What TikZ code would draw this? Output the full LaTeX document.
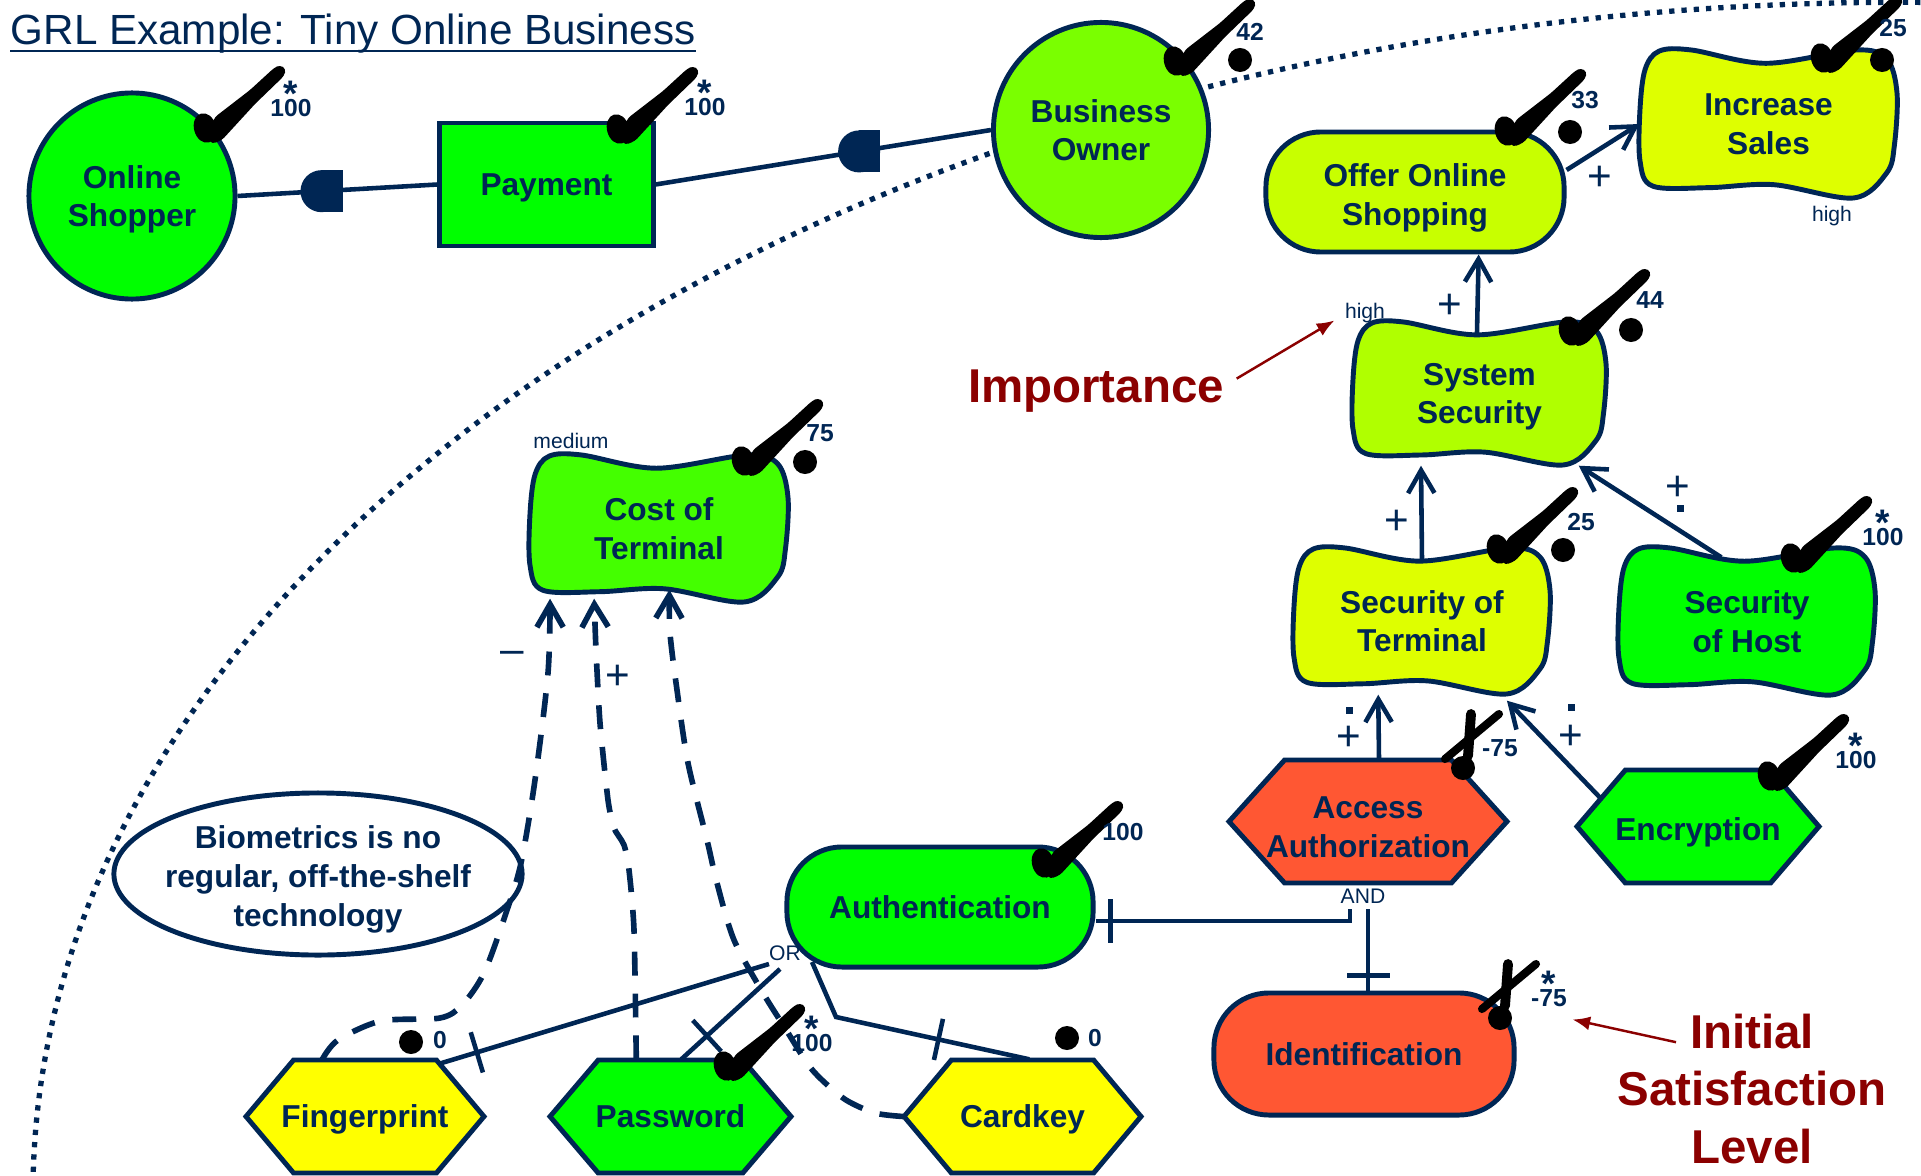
\documentclass[tikz,border=0pt]{standalone}
\usepackage{fontspec}
\setmainfont{Liberation Sans}
\usetikzlibrary{arrows.meta,calc}
\definecolor{navy}{RGB}{0,38,84}
\definecolor{darkred}{RGB}{139,0,0}
\definecolor{cfull}{RGB}{0,255,0}
\definecolor{cbo}{RGB}{122,255,0}
\definecolor{coos}{RGB}{200,255,0}
\definecolor{cis}{RGB}{222,255,0}
\definecolor{css}{RGB}{176,255,0}
\definecolor{ccot}{RGB}{68,255,0}
\definecolor{csot}{RGB}{222,255,0}
\definecolor{cred}{RGB}{255,87,51}
\definecolor{cyel}{RGB}{255,255,0}

\newcommand{\grlsoft}[7]{%
  \filldraw[elemline, fill=#6] plot[smooth cycle, tension=0.55] coordinates {
   ({#2+0.075*(#4-#2)},{#3+0.007*(#5-#3)})
   ({#2+0.2*(#4-#2)},{#3})
   ({#2+0.49*(#4-#2)},{#3+0.09*(#5-#3)})
   ({#2+0.84*(#4-#2)},{#3})
   ({#2+0.96*(#4-#2)},{#3+0.06*(#5-#3)})
   ({#4},{#3+0.29*(#5-#3)})
   ({#2+0.99*(#4-#2)},{#3+0.64*(#5-#3)})
   ({#2+0.96*(#4-#2)},{#3+0.83*(#5-#3)})
   ({#2+0.83*(#4-#2)},{#5})
   ({#2+0.52*(#4-#2)},{#3+0.91*(#5-#3)})
   ({#2+0.27*(#4-#2)},{#3+0.93*(#5-#3)})
   ({#2+0.05*(#4-#2)},{#3+0.92*(#5-#3)})
   ({#2},{#3+0.75*(#5-#3)})
   ({#2},{#3+0.4*(#5-#3)})
   ({#2+0.02*(#4-#2)},{#3+0.13*(#5-#3)})
  };
  \node[elemtext, minimum width={(#4-#2)*0.01cm}, minimum height={(#5-#3)*0.01cm}] (#1) at ({(#2+#4)/2},{(#3+#5)/2}) {#7};
}
\newcommand{\grltask}[8][]{%
  \filldraw[elemline, fill=#7] ({#3},{(#4+#6)/2}) -- ({#3+0.2*(#5-#3)},{#4}) -- ({#5-0.2*(#5-#3)},{#4}) -- ({#5},{(#4+#6)/2}) -- ({#5-0.2*(#5-#3)},{#6}) -- ({#3+0.2*(#5-#3)},{#6}) -- cycle;
  \node[elemtext, minimum width={(#5-#3)*0.01cm}, minimum height={(#6-#4)*0.01cm}, #1] (#2) at ({(#3+#5)/2},{(#4+#6)/2}) {#8};
}
\newcommand{\grlcheck}[2]{%
  \begin{scope}[shift={(#1,#2)}]
    \fill[black, rotate around={15:(-5,-14)}] (-5,-14) ellipse [x radius=0.11cm, y radius=0.15cm];
    \fill[black, rounded corners=1pt] (5,-25) -- (40,-52) -- (64,-74) -- (70,-77) -- (76,-73) -- (74,-66) -- (45,-38) -- (12,-2) -- (2,2) -- (-4,-6) -- cycle;
  \end{scope}
}
\newcommand{\grlcross}[2]{%
  \begin{scope}[shift={(#1,#2)}]
    \draw[black, line width=2.8pt, line cap=round] (5,-12) -- (8,-54);
    \draw[black, line width=2.3pt, line cap=round] (-18,-9) -- (36,-54);
  \end{scope}
}

\begin{document}
\begin{tikzpicture}[x=0.01cm, y=-0.01cm,
  elemline/.style={draw=navy, line width=1.4pt},
  elemtext/.style={font=\fontsize{9}{11}\selectfont\bfseries, text=navy, align=center, inner sep=0pt, text depth=0pt},
  actor/.style={circle, elemline, elemtext},
  goal/.style={rectangle, rounded corners=0.55cm, elemline, elemtext},
  res/.style={rectangle, elemline, elemtext},
  link/.style={draw=navy, line width=1.3pt},
  contrib/.style={link, -{Straight Barb[length=6.5pt,width=7.5pt]}},
  dcontrib/.style={contrib, line width=1.6pt, dash pattern=on 6.8pt off 5.1pt},
  boundary/.style={draw=navy, line width=1.5pt, dash pattern=on 1.5pt off 2pt},
  tickmark/.style={draw=navy, line width=1.3pt, minimum width=0pt, minimum height=0.42cm, inner sep=0pt, sloped, rectangle},
  num/.style={font=\fontsize{7}{8}\selectfont\bfseries, text=navy, inner sep=0pt},
  numstar/.style={num, align=center, text depth=0pt},
  smalllbl/.style={font=\fontsize{6}{7}\selectfont, text=navy, inner sep=0pt},
  signlbl/.style={font=\fontsize{12}{12}\selectfont, text=navy, inner sep=0pt},
  calltext/.style={font=\fontsize{13.5}{16.4}\selectfont\bfseries, text=darkred, align=center, inner sep=0pt},
  callarrow/.style={draw=darkred, line width=0.7pt, -{Latex[length=5pt,width=4pt]}}
]
\newcommand{\stv}[1]{{\fontsize{10.5}{10}\selectfont *}\\[-5.1pt]#1}
\useasboundingbox (0,0) rectangle (1921,1176);
\fill[white] (0,0) rectangle (1921,1176);
\begin{scope}
  \clip (0,0) rectangle (1921,1176);
  \draw[boundary] (1900,1195) ellipse [x radius=18.66cm, y radius=11.92cm];
\end{scope}

% title
\node[font=\fontsize{12}{14}\selectfont, text=navy, inner sep=0pt, anchor=base west] (title) at (10,45) {GRL Example: Tiny Online Business};
\draw[navy, line width=0.8pt] ($(title.base west)+(0,6)$) -- ($(title.base east)+(0,6)$);

% actors and resource
\node[actor, fill=cfull, minimum size=2.06cm] (os) at (132,196) {Online\\Shopper};
\node[res, fill=cfull, minimum width=2.13cm, minimum height=1.23cm] (pay) at (546.5,184.5) {Payment};
\node[actor, fill=cbo, minimum size=2.15cm] (bo) at (1101,130) {Business\\Owner};

% goals
\node[goal, fill=coos, minimum width=2.98cm, minimum height=1.2cm, text height=19pt] (oos) at (1415,192) {Offer Online\\Shopping};
\node[goal, fill=cfull, minimum width=3.06cm, minimum height=1.2cm] (auth) at (940,907) {Authentication};
\node[goal, fill=cred, minimum width=3.0cm, minimum height=1.22cm] (ident) at (1364,1054) {Identification};

% softgoals
\grlsoft{is}{1640}{50}{1897}{198}{cis}{Increase\\Sales}
\grlsoft{ss}{1353}{322}{1606}{465}{css}{System\\Security}
\grlsoft{cot}{530}{455}{788}{602}{ccot}{Cost of\\Terminal}
\grlsoft{sot}{1294}{548}{1550}{694}{csot}{Security of\\Terminal}
\grlsoft{soh}{1619}{548}{1875}{695}{cfull}{Security\\of Host}

% tasks
\grltask[text height=20.4pt]{aa}{1229}{760}{1507}{883}{cred}{Access\\Authorization}
\grltask[text height=8pt]{enc}{1577}{770}{1819}{883}{cfull}{Encryption}
\grltask{fp}{246}{1060}{484}{1173}{cyel}{Fingerprint}
\grltask{pw}{550}{1060}{791}{1173}{cfull}{Password}
\grltask{ck}{904}{1060}{1141}{1173}{cyel}{Cardkey}

% belief
\filldraw[elemline, fill=white] (318,874) ellipse [x radius=2.04cm, y radius=0.81cm];
\node[elemtext] (bio) at (318,876) {Biometrics is no\\regular, off-the-shelf\\technology};

% dependencies
\draw[link] (os.east) -- coordinate[pos=0.42] (d1) (pay.west);
\draw[link] (pay.east) -- coordinate[pos=0.607] (d2) (bo.west);
\fill[navy] (d1) circle[radius=0.21cm];
\fill[navy] ($(d1)+(0,-21)$) rectangle ($(d1)+(21,21)$);
\fill[navy] (d2) circle[radius=0.21cm];
\fill[navy] ($(d2)+(0,-21)$) rectangle ($(d2)+(21,21)$);

% contributions
\draw[contrib] ($(oos.east)+(0,-22)$) -- (is.west);
\draw[contrib] ($(ss.north west)!0.49!(ss.north east)+(0,13)$) -- ($(oos.south west)!0.71!(oos.south east)$);
\draw[contrib] ($(sot.north)+(0,13)$) -- ($(ss.south west)!0.27!(ss.south east)$);
\draw[contrib] ($(soh.north west)!0.4!(soh.north east)+(0,10)$) -- ($(ss.south west)!0.89!(ss.south east)$);
\draw[contrib] ($(aa.north)+(11,0)$) -- ($(sot.south west)!0.33!(sot.south east)$);
\draw[contrib] ($(enc.west)!0.5!(enc.north west)+(24,0)$) -- ($(sot.south west)!0.83!(sot.south east)+(0,6)$);

\node[signlbl] (p1) at (1600,178) {+};
\node[signlbl] (p2) at (1450,306) {+};
\node[signlbl] (p3) at (1397,522) {+};
\node[signlbl] (p4) at (1678,488) {+};
\fill[navy] (1676.5,504.5) rectangle +(7,7);
\node[signlbl] (p5) at (1349,738) {+};
\fill[navy] (1345.5,706.5) rectangle +(7,7);
\node[signlbl] (p6) at (1571,737) {+};
\fill[navy] (1567.5,703.5) rectangle +(7,7);

% AND decomposition
\node[smalllbl] (andl) at (1363,896) {AND};
\draw[link] ($(auth.east)+(0,14)$) -| ($(andl.south)+(-13,5)$);
\draw[link] ($(ident.north)+(4,0)$) -- ($(andl.south)+(5,5)$);
\draw[link] ($(auth.east)+(15,-8)$) -- ($(auth.east)+(15,36)$);
\draw[link] ($(ident.north)+(-17,-15)$) -- ($(ident.north)+(26,-15)$);

% OR decomposition
\node[smalllbl] (orl) at (785,953) {OR};
\draw[link] ($(fp.north east)+(-44,4)$) -- node[tickmark, pos=0.11] {} ($(orl)+(-16,11)$);
\draw[link] ($(pw.north west)+(132,0)$) -- node[tickmark, pos=0.26] {} ($(orl)+(-5,16)$);
\draw[link] ($(ck.north west)+(126,0)$) -- node[tickmark, pos=0.47] {} ($(orl)+(51,64)$) -- ($(orl)+(27,9)$);

% dashed contributions to Cost of Terminal
\coordinate (a0) at ($(fp.north west)+(77,0)$);
\coordinate (a1) at ($(cot.south west)!0.08!(cot.south east)+(0,-4)$);
\draw[dcontrib] plot[smooth, tension=0.5] coordinates {(a0) (338,1040) (381,1021) (440,1018) (462,1005) (484,973) (506,913) (521,863) (535,780) (548,673) (a1)};
\coordinate (b0) at ($(pw.north west)+(87,0)$);
\coordinate (b1) at ($(cot.south west)!0.25!(cot.south east)+(0,-4)$);
\draw[dcontrib] plot[smooth, tension=0.4] coordinates {(b0) (634,930) (629,870) (624,845) (614,828) (608,800) (600,723) (596,650) (b1)};
\coordinate (c0) at (ck.west);
\coordinate (c1) at ($(cot.south west)!0.54!(cot.south east)+(0,-13)$);
\draw[dcontrib] plot[smooth, tension=0.5] coordinates {(c0) (875,1113) (846,1100) (822,1080) (807,1063) (785,1028) (763,993) (734,940) (717,883) (707,840) (688,763) (677,690) (670,633) (c1)};
\node[signlbl] (m1) at (512,657) {--};
\node[signlbl] (p7) at (618,677) {+};

% annotations
\node[smalllbl] (hss) at (1365,313) {high};
\node[smalllbl] (his) at (1832,216) {high};
\node[smalllbl] (mcot) at (571,441) {medium};
\node[calltext, anchor=base] (imp) at (1096,402) {Importance};
\draw[callarrow] ($(imp.east)+(12,-12)$) -- ($(hss.south west)+(-10,-3)$);
\node[calltext] (isl) at (1752,1089) {Initial\\Satisfaction\\Level};

% satisfaction marks
\grlcheck{210}{142}
\grlcheck{623}{143}
\grlcheck{1180}{75}
\grlcheck{1511}{145}
\grlcheck{1827}{72}
\grlcheck{1575}{345}
\grlcheck{748}{475}
\grlcheck{1503}{563}
\grlcheck{1797}{572}
\grlcheck{1774}{790}
\grlcheck{1048}{877}
\grlcheck{730}{1080}
\grlcross{1463}{768}
\grlcross{1500}{1018}

\foreach \p in {(1240,60),(1570,132),(1882,60),(1631,330),(805,462),(1563,550),(1463,768),(1500,1018),(411,1042),(1067,1038)}
  \fill[black] \p circle[radius=0.12cm];

% values
\node[numstar] at (291,99) {\stv{100}};
\node[numstar] at (705,98) {\stv{100}};
\node[num] at (1250,32) {42};
\node[num] at (1585,100) {33};
\node[num] at (1893,28) {25};
\node[num] at (1650,300) {44};
\node[num] at (820,433) {75};
\node[num] at (1581,522) {25};
\node[numstar] at (1883,528) {\stv{100}};
\node[numstar] at (1856,751) {\stv{100}};
\node[num] at (1123,832) {100};
\node[numstar] at (812,1034) {\stv{100}};
\node[num] at (1500,748) {-75};
\node[numstar] (idv) at (1549,989) {\stv{-75}};
\node[num] at (440,1040) {0};
\node[num] at (1095,1038) {0};
\draw[callarrow] ($(isl.north)+(-76,29)$) -- ($(idv.south east)+(5,12)$);
\end{tikzpicture}
\end{document}
